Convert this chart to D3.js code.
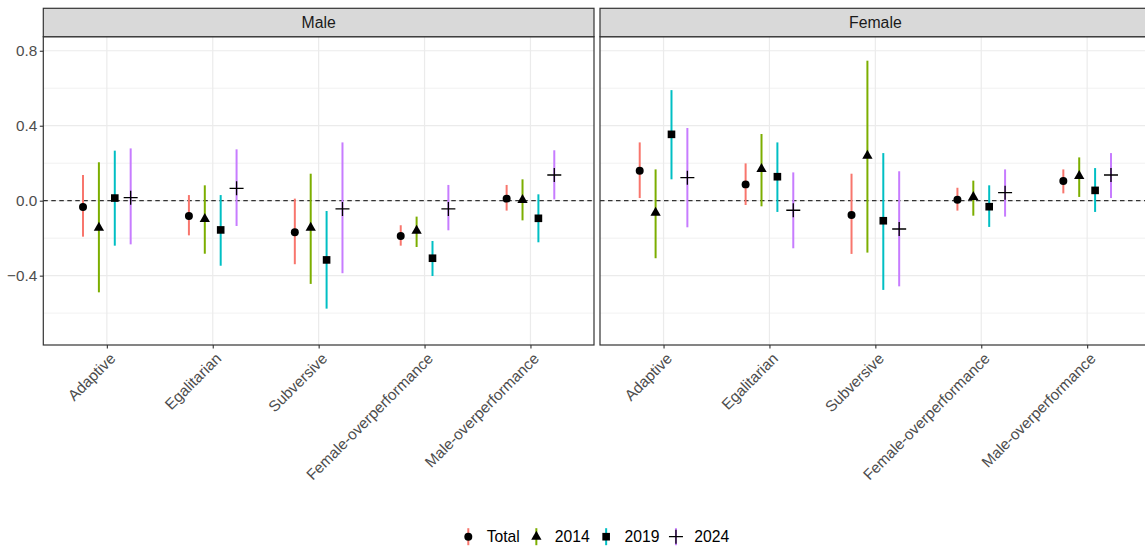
<!DOCTYPE html>
<html>
<head>
<meta charset="utf-8">
<script src="https://cdn.jsdelivr.net/npm/d3@7"></script>
<style>
  html, body { margin: 0; padding: 0; background: #fff; }
  svg { display: block; font-family: "Liberation Sans", Arial, sans-serif; }
</style>
</head>
<body>
<svg id="chart" width="1145" height="546"></svg>
<script>
// Categories along the x axis of each facet
const categories = ["Adaptive", "Egalitarian", "Subversive", "Female-overperformance", "Male-overperformance"];
const facets = ["Male", "Female"];
const seriesNames = ["Total", "2014", "2019", "2024"];
const seriesColors = ["#F8766D", "#7CAE00", "#00BFC4", "#C77CFF"];
const yTicks = [-0.4, 0.0, 0.4, 0.8];
const yMinor = [-0.6, -0.2, 0.2, 0.6];

// Male facet: rows are series (Total, 2014, 2019, 2024), columns are categories
const maleEst = [
  [-0.034, -0.082, -0.169, -0.188, 0.011],
  [-0.144, -0.098, -0.144, -0.160, 0.004],
  [0.014, -0.156, -0.316, -0.307, -0.094],
  [0.016, 0.066, -0.044, -0.044, 0.137]
];
const maleLow = [
  [-0.192, -0.185, -0.339, -0.240, -0.053],
  [-0.489, -0.283, -0.444, -0.247, -0.105],
  [-0.240, -0.347, -0.576, -0.402, -0.222],
  [-0.233, -0.135, -0.387, -0.158, 0.007]
];
const maleHigh = [
  [0.137, 0.030, 0.011, -0.131, 0.084],
  [0.205, 0.082, 0.144, -0.085, 0.114],
  [0.267, 0.030, -0.055, -0.215, 0.034],
  [0.279, 0.274, 0.311, 0.084, 0.269]
];

// Female facet
const femaleEst = [
  [0.160, 0.087, -0.076, 0.005, 0.105],
  [-0.064, 0.169, 0.240, 0.020, 0.132],
  [0.354, 0.128, -0.107, -0.032, 0.055],
  [0.123, -0.051, -0.151, 0.043, 0.137]
];
const femaleLow = [
  [0.014, -0.023, -0.284, -0.053, 0.039],
  [-0.307, -0.030, -0.277, -0.080, 0.020],
  [0.114, -0.060, -0.476, -0.140, -0.060],
  [-0.142, -0.254, -0.457, -0.085, 0.014]
];
const femaleHigh = [
  [0.311, 0.199, 0.144, 0.069, 0.167],
  [0.167, 0.356, 0.747, 0.107, 0.231],
  [0.590, 0.311, 0.254, 0.082, 0.174],
  [0.388, 0.151, 0.157, 0.167, 0.254]
];

const facetData = [
  { est: maleEst, low: maleLow, high: maleHigh },
  { est: femaleEst, low: femaleLow, high: femaleHigh }
];

const svg = d3.select("#chart");

const stripTop = 8.3, panelTop = 36.7, panelBottom = 345;
const panelWidth = 550.7;
const panelLefts = [43.3, 600];

const y = d3.scaleLinear().domain([-0.77, 0.875]).range([panelBottom, panelTop]);

const grey30 = "#4D4D4D";
const border = "#333333";

// symbol generators for the point shapes
const symCircle = d3.symbol().type(d3.symbolCircle).size(50)();
const symTriangle = d3.symbol().type(d3.symbolTriangle).size(46)();
const symSquare = d3.symbol().type(d3.symbolSquare).size(58)();
const plusPath = "M-7,0H7M0,-7V7";

function drawShape(g, i, cx, cy) {
  if (i === 3) {
    g.append("path").attr("d", plusPath)
      .attr("transform", `translate(${cx},${cy})`)
      .attr("stroke", "#000").attr("stroke-width", 1.3).attr("fill", "none");
  } else {
    const d = [symCircle, symTriangle, symSquare][i];
    g.append("path").attr("d", d)
      .attr("transform", `translate(${cx},${cy})`)
      .attr("fill", "#000");
  }
}

facets.forEach((facet, fi) => {
  const left = panelLefts[fi];
  const x = d3.scalePoint().domain(categories).range([left, left + panelWidth]).padding(0.6);
  const step = x.step();
  const dodge = d3.scalePoint().domain(seriesNames).range([-0.225 * step, 0.225 * step]);

  const g = svg.append("g");

  // panel background grid
  g.selectAll(".minor").data(yMinor).join("line")
    .attr("x1", left).attr("x2", left + panelWidth)
    .attr("y1", d => y(d)).attr("y2", d => y(d))
    .attr("stroke", "#EBEBEB").attr("stroke-width", 0.7);
  g.selectAll(".major").data(yTicks).join("line")
    .attr("x1", left).attr("x2", left + panelWidth)
    .attr("y1", d => y(d)).attr("y2", d => y(d))
    .attr("stroke", "#EBEBEB").attr("stroke-width", 1.2);
  g.selectAll(".vmajor").data(categories).join("line")
    .attr("x1", d => x(d)).attr("x2", d => x(d))
    .attr("y1", panelTop).attr("y2", panelBottom)
    .attr("stroke", "#EBEBEB").attr("stroke-width", 1.2);

  // reference line at zero
  g.append("line")
    .attr("x1", left).attr("x2", left + panelWidth)
    .attr("y1", y(0)).attr("y2", y(0))
    .attr("stroke", "#333").attr("stroke-width", 1.2)
    .attr("stroke-dasharray", "4.5,3.5");

  const data = facetData[fi];
  seriesNames.forEach((s, si) => {
    categories.forEach((c, ci) => {
      const cx = x(c) + dodge(s);
      g.append("line")
        .attr("x1", cx).attr("x2", cx)
        .attr("y1", y(data.low[si][ci])).attr("y2", y(data.high[si][ci]))
        .attr("stroke", seriesColors[si]).attr("stroke-width", 2);
    });
  });
  seriesNames.forEach((s, si) => {
    categories.forEach((c, ci) => {
      drawShape(g, si, x(c) + dodge(s), y(data.est[si][ci]));
    });
  });

  // panel border
  g.append("rect")
    .attr("x", left).attr("y", panelTop)
    .attr("width", panelWidth).attr("height", panelBottom - panelTop)
    .attr("fill", "none").attr("stroke", border).attr("stroke-width", 1.2);

  // strip
  g.append("rect")
    .attr("x", left).attr("y", stripTop)
    .attr("width", panelWidth).attr("height", panelTop - stripTop)
    .attr("fill", "#D9D9D9").attr("stroke", border).attr("stroke-width", 1.2);
  g.append("text")
    .attr("x", left + panelWidth / 2).attr("y", (stripTop + panelTop) / 2)
    .attr("dy", "0.35em").attr("text-anchor", "middle")
    .attr("font-size", 15.8).attr("fill", "#1A1A1A").text(facet);

  // x axis
  const xAxis = g.append("g").attr("transform", `translate(0,${panelBottom})`)
    .call(d3.axisBottom(x).tickSize(3.5).tickSizeOuter(0).tickFormat(""));
  xAxis.select(".domain").remove();
  xAxis.selectAll(".tick line").attr("stroke", border).attr("stroke-width", 1.1);

  g.selectAll(".xlab").data(categories).join("text")
    .attr("transform", d => `translate(${x(d) + 2},${panelBottom + 7}) rotate(-45)`)
    .attr("text-anchor", "end").attr("dy", "0.7em")
    .attr("font-size", 15.3).attr("fill", grey30)
    .text(d => d);

  // y axis on the first facet only
  if (fi === 0) {
    const yAxis = g.append("g").attr("transform", `translate(${left},0)`)
      .call(d3.axisLeft(y).tickValues(yTicks).tickSize(3.5).tickSizeOuter(0)
        .tickFormat(d3.format(".1f")));
    yAxis.select(".domain").remove();
    yAxis.selectAll(".tick line").attr("stroke", border).attr("stroke-width", 1.1);
    yAxis.selectAll(".tick text")
      .attr("font-size", 15.3).attr("fill", grey30)
      .attr("font-family", "Liberation Sans, Arial, sans-serif")
      .attr("x", -6);
  }
});

// legend
const legend = svg.append("g");
let lx = 468.3;
const ly = 536.7;
seriesNames.forEach((s, si) => {
  legend.append("line")
    .attr("x1", lx).attr("x2", lx).attr("y1", ly - 8.5).attr("y2", ly + 8.5)
    .attr("stroke", seriesColors[si]).attr("stroke-width", 2);
  drawShape(legend, si, lx, ly);
  const t = legend.append("text")
    .attr("x", lx + 18.4).attr("y", ly).attr("dy", "0.35em")
    .attr("font-size", 15.7).attr("fill", "#000").text(s);
  lx += 18.4 + t.node().getComputedTextLength() + 16.5;
});
</script>
</body>
</html>
